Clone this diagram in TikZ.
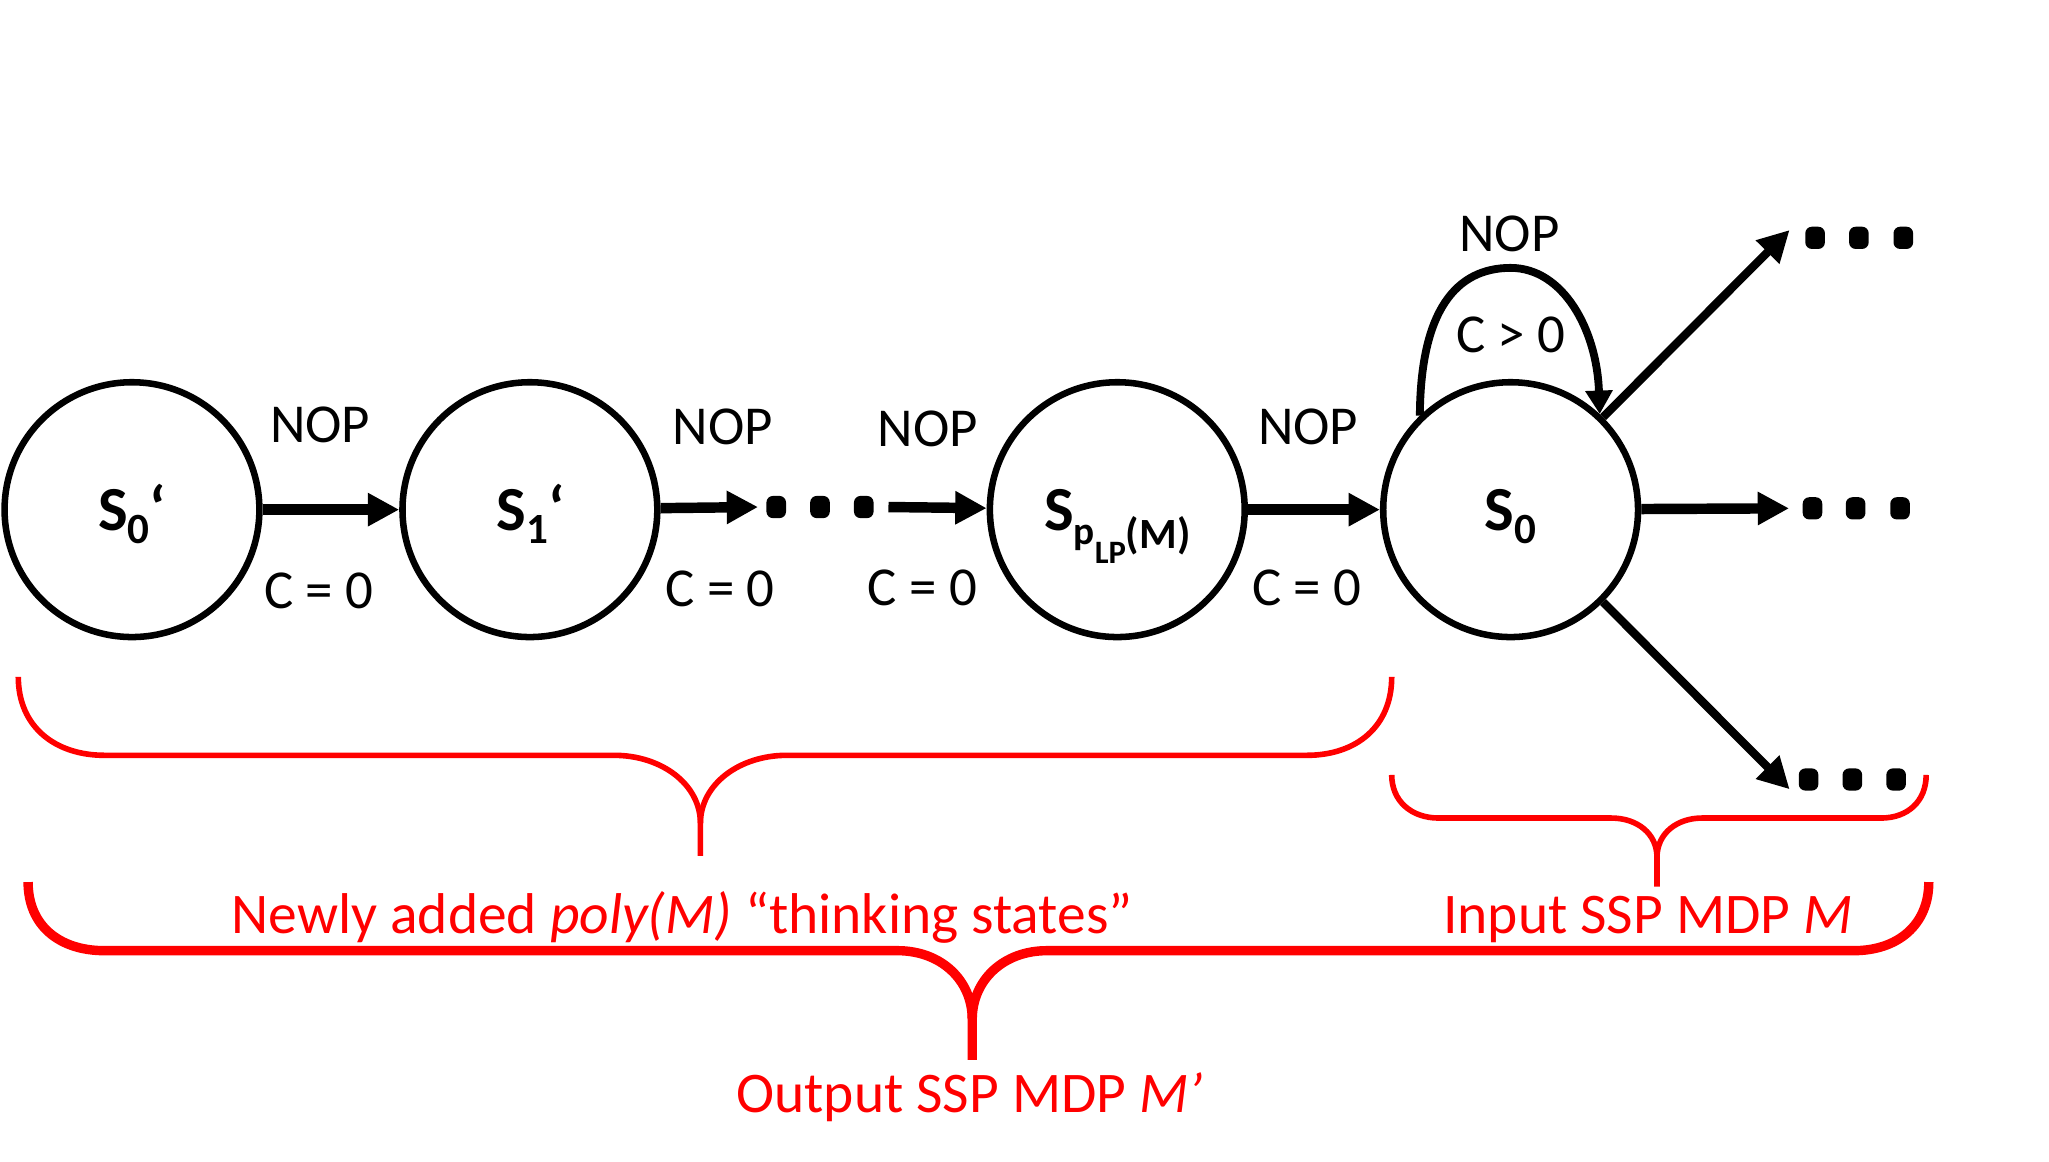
\documentclass[tikz,border=0pt]{standalone}
\usepackage{fontspec}
\setmainfont{Carlito}
\usetikzlibrary{arrows.meta}
\newcommand{\bS}{\fontsize{24}{28}\selectfont\bfseries}
\newcommand{\mysub}[2][16.5]{\raisebox{-4.8pt}{\fontsize{#1}{#1}\selectfont #2}}
\tikzset{
  state/.style={circle, draw, line width=2.5pt, minimum size=97.5pt, inner sep=0pt},
  arr/.style={line width=4pt, -{Triangle[length=12pt,width=12pt]}},
  diagarr/.style={line width=3.2pt, -{Triangle[length=12pt,width=12pt]}},
  selfarr/.style={line width=3pt, -{Triangle[length=9pt,width=10pt]}},
  lbl/.style={font=\fontsize{21}{25}\selectfont, inner sep=0pt},
  slbl/.style={anchor=base, inner sep=0pt},
  redlbl/.style={font=\fontsize{22}{26}\selectfont, text=red, inner sep=0pt, anchor=base},
  dotbox/.style={rectangle, rounded corners=2.5pt, fill=black, minimum width=7.5pt, minimum height=8.5pt, inner sep=0pt},
  brace/.style={draw=red, line width=2.15pt},
  bracethick/.style={draw=red, line width=3.6pt},
}
\begin{document}
\begin{tikzpicture}[x=0.5pt, y=-0.5pt]
\path[use as bounding box] (0,0) rectangle (1568,889);

% states
\node[state] (s0p) at (101,390) {};
\node[state] (s1p) at (405.5,390) {};
\node[state] (spl) at (855,390) {};
\node[state] (s0) at (1156,390) {};

% state labels
\node[slbl] (ls0p) at (101,406) {\bS S\mysub{0}‘};
\node[slbl] (ls1p) at (406,406) {\bS S\mysub{1}‘};
\node[slbl] (lspl) at (855,406) {\bS S\raisebox{-5.4pt}{\fontsize{15}{15}\selectfont p\raisebox{-7.3pt}{\fontsize{12.5}{12.5}\selectfont LP}}\raisebox{-6.8pt}{\fontsize{16.5}{16.5}\selectfont (M)}};
\node[slbl] (ls0) at (1156,406) {\bS S\mysub{0}};

% dots
\node[dotbox] (d1) at (594,388) {};
\node[dotbox] (d2) at (627.5,388) {};
\node[dotbox] (d3) at (661,388) {};
\node[dotbox] (u1) at (1389,182) {};
\node[dotbox] (u2) at (1422.5,182) {};
\node[dotbox] (u3) at (1456.5,182) {};
\node[dotbox] (m1) at (1387,389) {};
\node[dotbox] (m2) at (1420,389) {};
\node[dotbox] (m3) at (1454,389) {};
\node[dotbox] (b1) at (1384,596.5) {};
\node[dotbox] (b2) at (1417.5,596.5) {};
\node[dotbox] (b3) at (1451,596.5) {};

\coordinate (tu) at (1369.5,176);
\coordinate (tl) at (1369.5,604);

% arrows
\draw[arr] (s0p) -- (s1p);
\draw[arr] (s1p) -- ([xshift=-3pt]d1.west);
\draw[arr] ([xshift=5.5pt]d3.east) -- (spl);
\draw[arr] (spl) -- (s0);
\draw[arr] (s0) -- ([xshift=-5pt]m1.west);
\draw[diagarr] (s0.45) -- (tu);
\draw[diagarr] (s0.-45) -- (tl);
\draw[selfarr] (s0.134) .. controls (1087,238) and (1114,205) .. (1156,205) .. controls (1196,205) and (1222,252) .. (s0.47);

% edge labels
\node[lbl] (n1) at (245,325) {NOP};
\node[lbl] (c1) at (244,452) {C = 0};
\node[lbl] (n2) at (553,327) {NOP};
\node[lbl] (c2) at (551,451) {C = 0};
\node[lbl] (n3) at (710,328) {NOP};
\node[lbl] (c3) at (706,450) {C = 0};
\node[lbl] (n4) at (1001,327) {NOP};
\node[lbl] (c4) at (1000,450) {C = 0};
\node[lbl] (n5) at (1155,179) {NOP};
\node[lbl] (c5) at (1156,256) {C > 0};

% braces
\draw[brace] (14,518) .. controls (14,556) and (42,578) .. (80,578) -- (470,578) .. controls (506,578) and (536,600) .. (536,630) -- (536,655);
\draw[brace] (536,630) .. controls (536,600) and (566,578) .. (602,578) -- (1000,578) .. controls (1038,578) and (1065,556) .. (1065,518);

\draw[brace] (1065,593) .. controls (1065,613) and (1080,626) .. (1101,626) -- (1233,626) .. controls (1253,626) and (1268,638) .. (1268,656) -- (1268,678.5);
\draw[brace] (1268,656) .. controls (1268,638) and (1283,626) .. (1302.5,626) -- (1439.5,626) .. controls (1460,626) and (1474,613) .. (1474,593);

\draw[bracethick] (21.5,675) .. controls (21.5,708) and (45,727.5) .. (80,727.5) -- (687,727.5) .. controls (720,727.5) and (744,750) .. (744,780) -- (744,811);
\draw[bracethick] (744,780) .. controls (744,750) and (768,727.5) .. (801,727.5) -- (1418.5,727.5) .. controls (1452,727.5) and (1476,708) .. (1476,675);

% red labels
\node[redlbl] (t1) at (522,714) {Newly added \textit{poly(M)} “thinking states”};
\node[redlbl] (t2) at (1261,714) {Input SSP MDP \textit{M}};
\node[redlbl] (t3) at (742,851) {Output SSP MDP \textit{M’}};
\end{tikzpicture}
\end{document}
